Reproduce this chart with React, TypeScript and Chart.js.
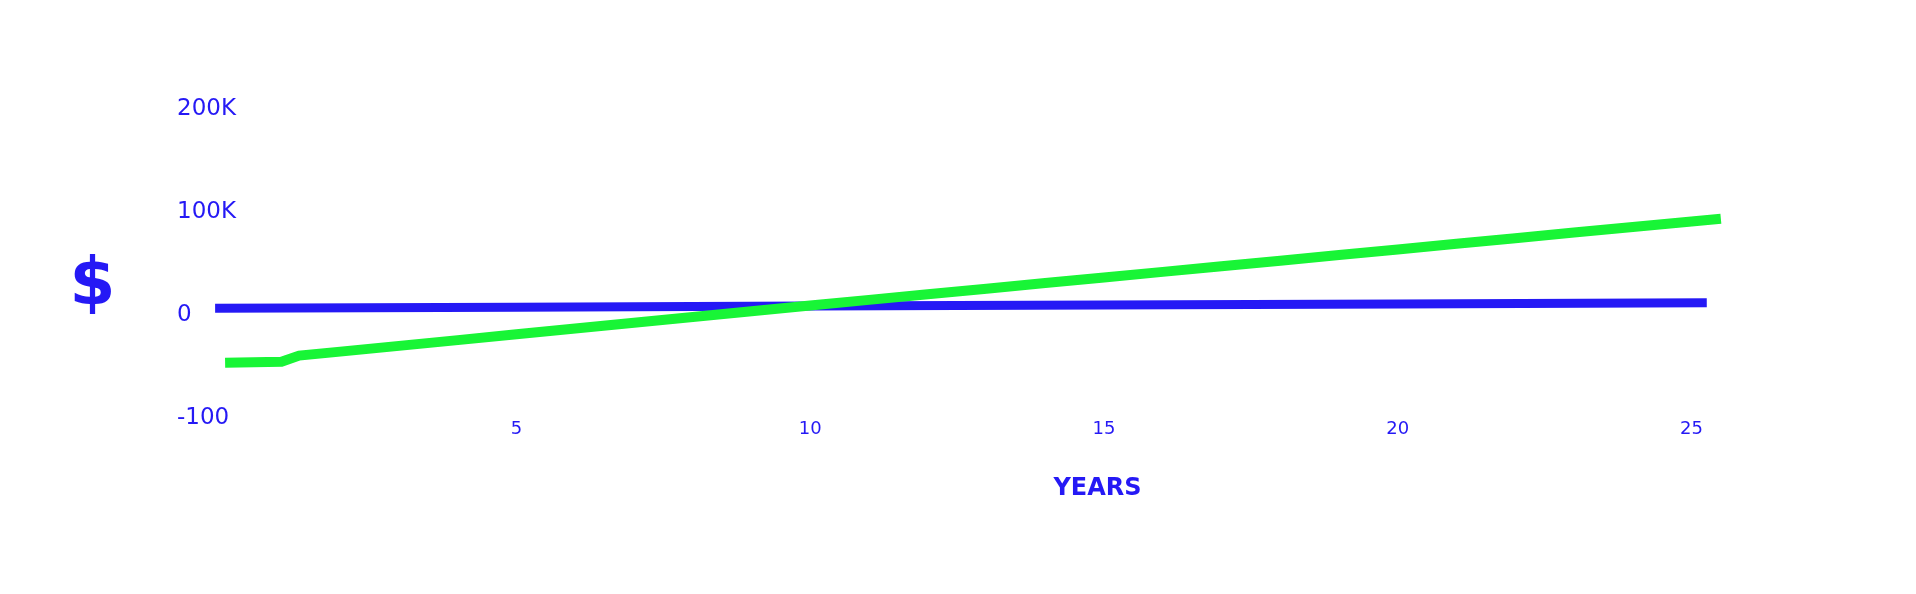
import { useEffect, useRef } from 'react';
import { Chart, registerables } from 'chart.js';

Chart.register(...registerables);

const BLUE = 'rgb(37, 25, 245)';
const GREEN = 'rgb(24, 245, 54)';
const FONT = '"DejaVu Sans", Verdana, sans-serif';

// Values in thousands of dollars
const GREEN_YEARS = [0.04, 1.0, 1.3, 2, 3, 4, 5, 6, 7, 8, 9, 10, 11, 12, 13, 14, 15, 16, 17, 18, 19, 20, 21, 22, 23, 24, 25, 25.5];
const GREEN_VALUES = [-46.2, -45.3, -39.3, -35.4, -29.8, -24.2, -18.6, -13.0, -7.4, -1.8, 3.8, 9.4, 14.9, 20.3, 25.8, 31.2, 36.7, 42.1, 47.6, 53.0, 58.5, 63.9, 69.4, 74.8, 80.3, 85.7, 91.1, 93.8];

const BLUE_YEARS = [-0.13, 5, 10, 15, 20, 25.26];
const BLUE_VALUES = [6.7, 7.8, 8.9, 10.0, 11.0, 12.1];

const X_TICKS = [5, 10, 15, 20, 25];
const Y_TICKS = [-100, 0, 100, 200];
const Y_TICK_LABELS = ['-100', '0', '100K', '200K'];

const textPlugin = {
  id: 'freeText',
  afterDraw(chart: any, _args: any, opts: any) {
    const ctx = chart.ctx;
    for (const t of opts.items || []) {
      ctx.save();
      ctx.font = t.font;
      ctx.fillStyle = t.color;
      ctx.textAlign = 'center';
      ctx.textBaseline = 'middle';
      ctx.fillText(t.text, t.x, t.y);
      ctx.restore();
    }
  },
};

export default function App() {
  const ref = useRef<HTMLCanvasElement | null>(null);

  useEffect(() => {
    if (!ref.current) return;
    const chart = new Chart(ref.current, {
      type: 'line',
      data: {
        datasets: [
          {
            label: 'Savings',
            data: GREEN_YEARS.map((x, i) => ({ x, y: GREEN_VALUES[i] })),
            borderColor: GREEN,
            backgroundColor: GREEN,
            borderWidth: 10,
            pointRadius: 0,
            tension: 0,
            borderCapStyle: 'butt',
          },
          {
            label: 'Cost',
            data: BLUE_YEARS.map((x, i) => ({ x, y: BLUE_VALUES[i] })),
            borderColor: BLUE,
            backgroundColor: BLUE,
            borderWidth: 9,
            pointRadius: 0,
            tension: 0,
            borderCapStyle: 'butt',
          },
        ],
      },
      options: {
        animation: false,
        responsive: true,
        maintainAspectRatio: false,
        layout: { padding: { left: 177, right: 165.75, top: 109.4, bottom: 145.9 } },
        plugins: {
          legend: { display: false },
          tooltip: { enabled: false },
          freeText: {
            items: [
              { text: '$', x: 92.5, y: 287, font: `bold 66px ${FONT}`, color: BLUE },
              { text: 'YEARS', x: 1097.5, y: 489, font: `bold 24px ${FONT}`, color: BLUE },
            ],
          },
        } as any,
        scales: {
          x: {
            type: 'linear',
            min: -0.5,
            max: 26,
            grid: { display: false, drawTicks: false },
            border: { display: false },
            afterBuildTicks: (scale: any) => {
              scale.ticks = X_TICKS.map((v) => ({ value: v }));
            },
            afterFit: (scale: any) => {
              scale.height = 30;
            },
            ticks: {
              padding: 0,
              color: BLUE,
              font: { family: FONT, size: 18 },
              maxRotation: 0,
              callback: (v: any) => String(v),
            },
          },
          y: {
            type: 'linear',
            min: -100,
            max: 200,
            grid: { display: false, drawTicks: false },
            border: { display: false },
            afterBuildTicks: (scale: any) => {
              scale.ticks = Y_TICKS.map((v) => ({ value: v }));
            },
            afterFit: (scale: any) => {
              scale.width = 16.375;
            },
            ticks: {
              mirror: true,
              padding: -16.375,
              crossAlign: 'near',
              color: BLUE,
              font: { family: FONT, size: 23 },
              callback: (v: any) => {
                const i = Y_TICKS.indexOf(Number(v));
                return i >= 0 ? Y_TICK_LABELS[i] : '';
              },
            },
          },
        },
      },
      plugins: [textPlugin],
    } as any);
    return () => chart.destroy();
  }, []);

  return (
    <div style={{ position: 'fixed', left: 0, top: 0, width: '1916px', height: '594px', background: '#fff' }}>
      <canvas ref={ref} />
    </div>
  );
}
